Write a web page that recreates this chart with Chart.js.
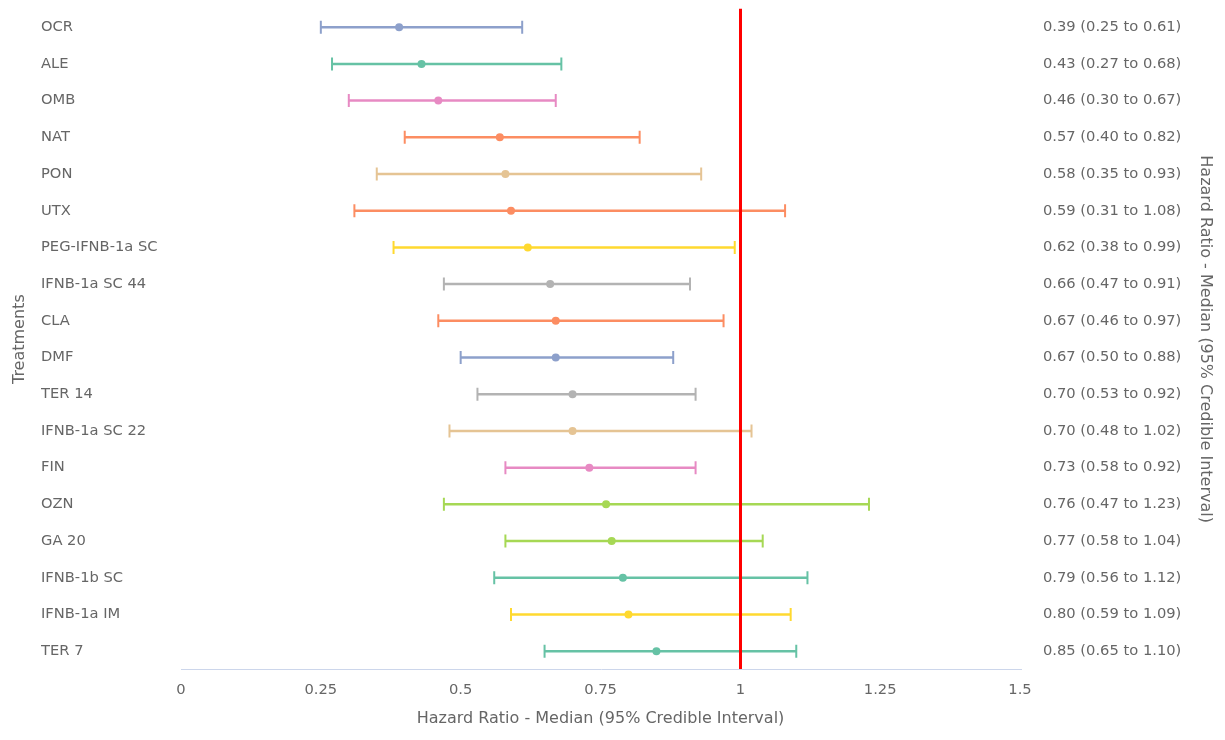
<!DOCTYPE html>
<html>
<head>
<meta charset="utf-8">
<title>Hazard Ratio forest plot</title>
<script src="https://cdn.jsdelivr.net/npm/chart.js@4/dist/chart.umd.min.js"></script>
<style>
  html, body { margin: 0; padding: 0; background: #ffffff; }
  canvas { display: block; }
</style>
</head>
<body>
<canvas id="forest" width="1225" height="740"></canvas>
<script>
// Treatments, top to bottom
const treatments = ['OCR', 'ALE', 'OMB', 'NAT', 'PON', 'UTX', 'PEG-IFNB-1a SC', 'IFNB-1a SC 44',
  'CLA', 'DMF', 'TER 14', 'IFNB-1a SC 22', 'FIN', 'OZN', 'GA 20', 'IFNB-1b SC', 'IFNB-1a IM', 'TER 7'];

// Hazard ratio: median and 95% credible interval bounds
const medians = [0.39, 0.43, 0.46, 0.57, 0.58, 0.59, 0.62, 0.66, 0.67, 0.67, 0.70, 0.70, 0.73, 0.76, 0.77, 0.79, 0.80, 0.85];
const lower   = [0.25, 0.27, 0.30, 0.40, 0.35, 0.31, 0.38, 0.47, 0.46, 0.50, 0.53, 0.48, 0.58, 0.47, 0.58, 0.56, 0.59, 0.65];
const upper   = [0.61, 0.68, 0.67, 0.82, 0.93, 1.08, 0.99, 0.91, 0.97, 0.88, 0.92, 1.02, 0.92, 1.23, 1.04, 1.12, 1.09, 1.10];

// One colour per treatment
const colors = ['#8DA0CB', '#66C2A5', '#E78AC3', '#FC8D62', '#E5C494', '#FC8D62', '#FFD92F', '#B3B3B3',
  '#FC8D62', '#8DA0CB', '#B3B3B3', '#E5C494', '#E78AC3', '#A6D854', '#A6D854', '#66C2A5', '#FFD92F', '#66C2A5'];

// X axis tick labels
const xTicks = [0, 0.25, 0.5, 0.75, 1, 1.25, 1.5];
const nullLine = 1;

const fmt = v => v.toFixed(2);
const ciLabels = treatments.map((t, i) => `${fmt(medians[i])} (${fmt(lower[i])} to ${fmt(upper[i])})`);

const textColor = '#666666';
const axisTitle = 'Hazard Ratio - Median (95% Credible Interval)';
Chart.defaults.font.family = "'DejaVu Sans', sans-serif";
Chart.defaults.font.size = 14.7;
Chart.defaults.color = textColor;
const titleFont = { size: 16 };

// Interval lines with whisker caps
const intervalSets = treatments.map((t, i) => ({
  type: 'scatter',
  label: t,
  data: [{ x: lower[i], y: t }, { x: upper[i], y: t }],
  showLine: true,
  borderColor: colors[i],
  borderWidth: 2.5,
  pointStyle: 'line',
  rotation: 90,
  pointRadius: 6.5,
  pointBorderWidth: 2,
  pointBorderColor: colors[i],
  yAxisID: 'y',
  order: 2
}));

// Median markers
const medianSet = {
  type: 'scatter',
  label: 'Median',
  data: treatments.map((t, i) => ({ x: medians[i], y: t })),
  pointRadius: 4,
  pointBorderWidth: 0,
  pointBackgroundColor: colors,
  pointBorderColor: colors,
  showLine: false,
  yAxisID: 'y',
  order: 1
};

new Chart(document.getElementById('forest'), {
  type: 'scatter',
  data: { datasets: [...intervalSets, medianSet] },
  options: {
    responsive: false,
    animation: false,
    events: [],
    layout: { padding: { top: 8, right: 0, bottom: 0, left: 0 } },
    plugins: { legend: { display: false }, tooltip: { enabled: false } },
    scales: {
      x: {
        type: 'linear',
        min: xTicks[0],
        max: xTicks[xTicks.length - 1],
        afterBuildTicks: s => { s.ticks = xTicks.map(v => ({ value: v })); },
        ticks: { padding: 12, color: textColor, callback: v => String(v) },
        grid: {
          z: 1,
          drawTicks: false,
          lineWidth: 3,
          color: c => (c.tick && Math.abs(c.tick.value - nullLine) < 1e-9 ? '#ff0000' : 'rgba(0,0,0,0)')
        },
        border: { display: true, color: '#ccd6eb', width: 1, z: 2 },
        title: {
          display: true,
          text: axisTitle,
          color: textColor,
          font: titleFont,
          padding: { top: 0, bottom: 12 }
        },
        afterFit: s => { s.height = 70.5; }
      },
      yTitle: {
        type: 'category',
        position: 'left',
        weight: 2,
        labels: treatments,
        offset: true,
        ticks: { display: false, padding: 0 },
        grid: { display: false, drawTicks: false },
        border: { display: false },
        title: { display: true, text: 'Treatments', color: textColor, font: titleFont, padding: { top: 10.4, bottom: 0 } },
        afterFit: s => { s.width = 41; }
      },
      y: {
        type: 'category',
        position: 'left',
        weight: 1,
        labels: treatments,
        offset: true,
        ticks: { crossAlign: 'far', padding: 0, color: textColor, autoSkip: false },
        grid: { display: false, drawTicks: false },
        border: { display: false },
        afterFit: s => { s.width = 140; }
      },
      y2: {
        type: 'category',
        position: 'right',
        labels: ciLabels,
        offset: true,
        ticks: { crossAlign: 'near', padding: 0, color: textColor, autoSkip: false },
        grid: {
          display: true,
          drawOnChartArea: false,
          drawTicks: true,
          tickLength: 23,
          color: 'rgba(0,0,0,0)'
        },
        border: { display: false },
        title: {
          display: true,
          text: axisTitle,
          color: textColor,
          font: titleFont,
          padding: { top: 10.4, bottom: 0 }
        },
        afterFit: s => { s.width = 205; }
      }
    }
  }
});
</script>
</body>
</html>
